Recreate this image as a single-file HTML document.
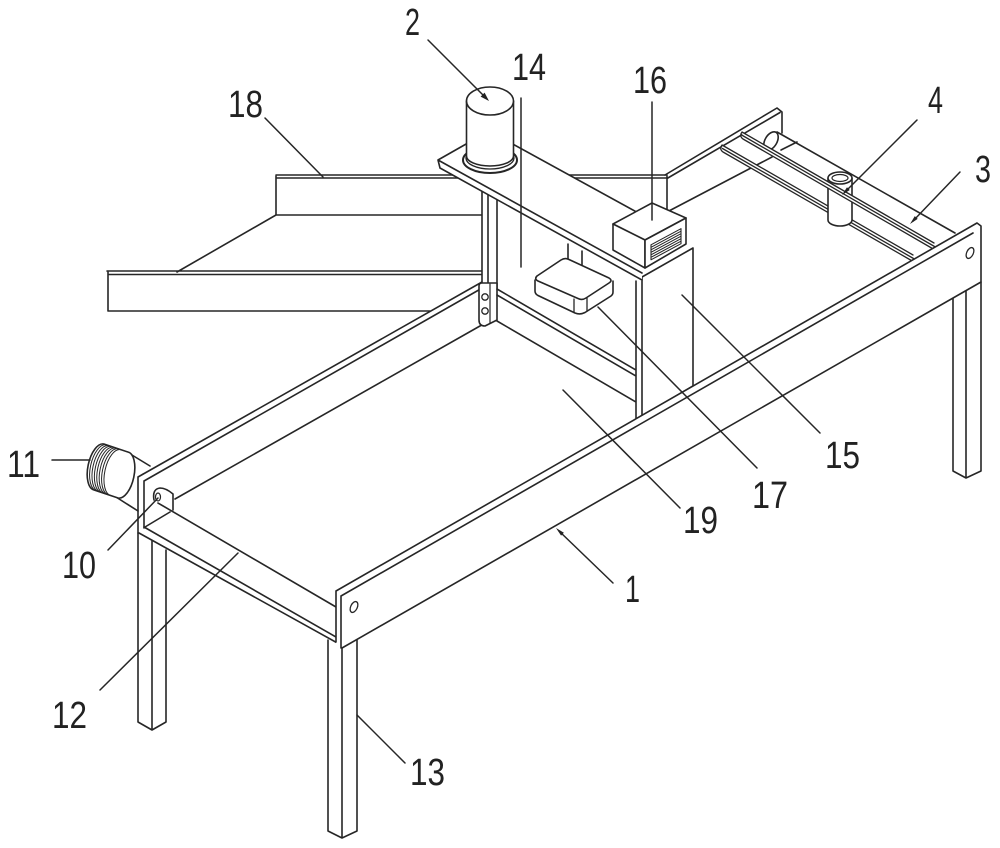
<!DOCTYPE html>
<html>
<head>
<meta charset="utf-8">
<style>
  html,body{margin:0;padding:0;background:#fff;}
  svg{display:block;}
  text{font-family:"Liberation Sans", "DejaVu Sans", sans-serif;font-size:38px;fill:#222;}
</style>
</head>
<body>
<svg width="1000" height="848" viewBox="0 0 1000 848" xmlns="http://www.w3.org/2000/svg">
<rect width="1000" height="848" fill="#fff"/>
<g fill="none" stroke="#262626" stroke-width="1.6" stroke-linecap="round" stroke-linejoin="round">

  <!-- Chute 18 -->
  <path d="M276,175 H667 M277,178 H667 M276,176 V215 H482 M276,215 L177,272 M107,271 H482 M109,274.5 H482 M108,272 V311 H430"/>

  <!-- Back plate (far side, right part) -->
  <path d="M665,175 L777,108 L782,112 V133 M667,178.5 L780,112.5 M667,176 V212 L772,157"/>

  <!-- Rod 3 -->
  <path d="M777,132 L955,233 L935,244 L765,147 Z" fill="#fff" stroke="none"/>
  <path d="M777,132 L955,233"/>
  <ellipse cx="771" cy="141" rx="10" ry="6" transform="rotate(-60 771 141)" fill="#fff"/>
  <path d="M781,150 L797,142"/>

  <!-- Rail A -->
  <path d="M722,145 L913,255 L914,262 L723,152 Z" fill="#fff" stroke="none"/>
  <path d="M722,145 L913,255 M722.5,148.5 L913.5,258.5 M723,152 L914,262 M722,145 Q719,149 723,152" stroke-width="1.3"/>

  <!-- Slider 4 -->
  <path d="M828,178 V220 A12,6 0 0 0 852,220 V178 Z" fill="#fff"/>
  <ellipse cx="840" cy="178" rx="12" ry="6" fill="#fff"/>
  <ellipse cx="840" cy="178" rx="8" ry="3.5" stroke-width="1.2"/>

  <!-- Rail B -->
  <path d="M742,132 L934,243 L935,250 L743,139 Z" fill="#fff" stroke="none"/>
  <path d="M742,132 L934,243 M742.5,135.5 L934.5,246.5 M743,139 L935,250 M742,132 Q739,136 743,139" stroke-width="1.3"/>

  <!-- Far rail (left long side) -->
  <path d="M138,477 L482,282 M144,481 L484,287 M175,499 L487,322 M138,477 V533 M144,481 V528 M138,477 L143,474"/>

  <!-- Front end crossmember, roller -->
  <path d="M144,527 L336,637 M139,533 L341,645 M158,503 L336,607 M170,512 L145,527"/>
  <path d="M154,500 Q152,489 160,488 Q166,488 173,494 L173,510" fill="#fff"/>
  <ellipse cx="158" cy="497" rx="2.5" ry="4" stroke-width="1.2"/>

  <!-- Legs -->
  <path d="M328,640 V831 L342,838 L357,831 V640 M342,648 V838"/>
  <path d="M953,297 V471 L966,478 L981,471 V282 M966,290 V478"/>
  <path d="M138,533 V722 L152,730 L166,722 V550 M152,541 V730"/>

  <!-- Gantry: post 14 + bracket -->
  <rect x="482" y="166" width="15" height="122" fill="#fff" stroke="none"/>
  <path d="M482,166 V286 M488,168 V286 M497,170 V288"/>
  <path d="M479,286 Q479,283 482,283 L497,283 V320 L485,326 Q479,326 479,320 Z" fill="#fff"/>
  <path d="M490,284 V323" stroke-width="1.2"/>
  <circle cx="485" cy="297" r="3.2" stroke-width="1.3"/>
  <circle cx="485" cy="311" r="3.2" stroke-width="1.3"/>

  <!-- Lower bar of gantry -->
  <path d="M497,289 L636,370 M497,295 L636,376 M497,321 L636,402 M636,281 V419"/>

  <!-- Column 15 -->
  <path d="M642,277 L693,248 V386 L642,416 Z" fill="#fff"/>

  <!-- Press rod + block 17 -->
  <path d="M568,244 V272 Q575,280 582,274 V251" fill="#fff"/>
  <path d="M535,280 L535,291 L577,314 L613,293 L613,281 L582,300 Z" fill="#fff" stroke="none"/>
  <path d="M535,280 L535,291 Q535,294 538,295.5 L575,313 Q580,315 585,312.5 L611,296 Q613,294.5 613,292 L613,281"/>
  <path d="M537,276 L561,260 Q565,257.5 569,259.5 L609,278 Q613,280.5 609,283 L586,298 Q582,300.5 578,298.5 L538,281 Q534,279 537,276 Z" fill="#fff"/>
  <path d="M574,299 V312.5 M587,298 V311" stroke-width="1.3"/>

  <!-- Beam -->
  <path d="M438,160 L489,131 L642,215 L642,281 L440,168 Z" fill="#fff" stroke="none"/>
  <path d="M440,168 L438,160 L489,131 M489,131 L642,215 M438,160 L642,273 M440,168 L642,280"/>

  <!-- Motor 2 -->
  <ellipse cx="490" cy="160" rx="27" ry="13" fill="#fff" stroke-width="2"/>
  <ellipse cx="490" cy="158" rx="24" ry="11" stroke-width="1.3"/>
  <path d="M466.5,101 V156 A23.5,10 0 0 0 513.5,156 V101 Z" fill="#fff"/>
  <ellipse cx="490" cy="101" rx="23.5" ry="14" fill="#fff"/>

  <!-- Box 16 -->
  <path d="M613,224 L652,203 L686,218 L645,240 Z" fill="#fff"/>
  <path d="M613,224 L645,240 L645,268 L613,250 Z" fill="#fff"/>
  <path d="M645,240 L686,218 L686,244 L645,268 Z" fill="#fff"/>
  <g stroke-width="1.1">
    <path d="M651,244.8 L681,228.7 M651,247.3 L681,231.2 M651,249.8 L681,233.7 M651,252.3 L681,236.2 M651,254.8 L681,238.7 M651,257.3 L681,241.2 M651,259.8 L681,243.7 M651,244.8 V259.8 M681,228.7 V243.7"/>
  </g>

  <!-- Near plate (front long side) -->
  <path d="M336,591 L977,223 L981,226 V282 L342,648 L336,644 Z" fill="#fff" stroke="none"/>
  <path d="M336,591 L977,223 L981,226 V282 M341,596 L973,233 M342,648 L981,282 M336,591 V642 M341,596 V648"/>
  <ellipse cx="354" cy="607" rx="3.3" ry="5.8" transform="rotate(25 354 607)" stroke-width="1.3"/>
  <ellipse cx="970" cy="253" rx="3.3" ry="5.8" transform="rotate(25 970 253)" stroke-width="1.3"/>

  <!-- Knob / motor 11 -->
  <path d="M127,452 L150,466 M116,497 L138,511"/>
  <path d="M103.9,444 L127.9,452 A11 23.5 12 0 1 118.1,498 L94.1,490 A11 23.5 12 0 1 103.9,444 Z" fill="#fff"/>
  <g stroke-width="1.0">
    <path d="M106.3,444.8 A11 23.5 12 0 0 96.5,490.8"/>
    <path d="M108.7,445.6 A11 23.5 12 0 0 98.9,491.6"/>
    <path d="M111.1,446.4 A11 23.5 12 0 0 101.3,492.4"/>
    <path d="M113.5,447.2 A11 23.5 12 0 0 103.7,493.2"/>
    <path d="M115.9,448 A11 23.5 12 0 0 106.1,494"/>
    <path d="M118.3,448.8 A11 23.5 12 0 0 108.5,494.8"/>
    <path d="M120.7,449.6 A11 23.5 12 0 0 110.9,495.6"/>
  </g>

  <!-- Leader lines -->
  <g stroke-width="1.5">
    <path d="M428,40 L486,98"/>
    <path d="M521,98 V267"/>
    <path d="M652,102 V220"/>
    <path d="M265,118 L323,177"/>
    <path d="M917,120 L845,192"/>
    <path d="M960,172 L913,221"/>
    <path d="M52,460 H90"/>
    <path d="M158,498 L108,550"/>
    <path d="M238,553 L100,690"/>
    <path d="M405,763 L357,715"/>
    <path d="M613,583 L559,531"/>
    <path d="M680,508 L563,390"/>
    <path d="M757,468 L598,307"/>
    <path d="M820,433 L682,295"/>
  </g>
</g>

<!-- Arrowheads -->
<g fill="#222" stroke="none">
  <polygon points="489,101 480.6,96.6 484.6,92.6"/>
  <polygon points="842,195 849.8,190 847,187.2"/>
  <polygon points="910,224 917.7,218.9 914.8,216.1"/>
  <polygon points="556,528 563.9,532.8 561.1,535.6"/>
</g>

<!-- Labels -->
<text x="405" y="35" textLength="15" lengthAdjust="spacingAndGlyphs">2</text>
<text x="512" y="80" textLength="34" lengthAdjust="spacingAndGlyphs">14</text>
<text x="633" y="93" textLength="34" lengthAdjust="spacingAndGlyphs">16</text>
<text x="228" y="117" textLength="35" lengthAdjust="spacingAndGlyphs">18</text>
<text x="928" y="113" textLength="15" lengthAdjust="spacingAndGlyphs">4</text>
<text x="975" y="182" textLength="16" lengthAdjust="spacingAndGlyphs">3</text>
<text x="7" y="477" textLength="33" lengthAdjust="spacingAndGlyphs">11</text>
<text x="62" y="578" textLength="34" lengthAdjust="spacingAndGlyphs">10</text>
<text x="52" y="728" textLength="35" lengthAdjust="spacingAndGlyphs">12</text>
<text x="410" y="785" textLength="35" lengthAdjust="spacingAndGlyphs">13</text>
<text x="625" y="602" textLength="15" lengthAdjust="spacingAndGlyphs">1</text>
<text x="683" y="533" textLength="35" lengthAdjust="spacingAndGlyphs">19</text>
<text x="752" y="508" textLength="36" lengthAdjust="spacingAndGlyphs">17</text>
<text x="825" y="468" textLength="35" lengthAdjust="spacingAndGlyphs">15</text>
</svg>
</body>
</html>
